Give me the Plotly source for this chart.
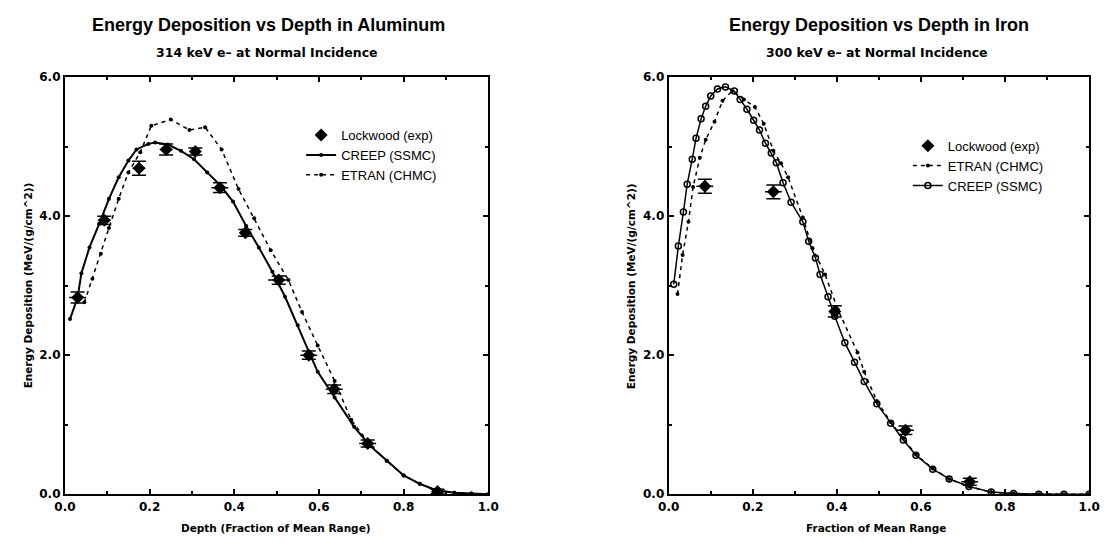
import plotly.graph_objects as go

# ---------------- Aluminum (left) ----------------
al_exp_x = [0.030, 0.093, 0.175, 0.239, 0.308, 0.366, 0.426, 0.505, 0.576, 0.636, 0.715, 0.880]
al_exp_y = [2.83, 3.94, 4.69, 4.96, 4.93, 4.41, 3.76, 3.08, 2.00, 1.51, 0.73, 0.04]
al_exp_ex = [0.02, 0.015, 0.015, 0.015, 0.01, 0.02, 0.01, 0.025, 0.02, 0.02, 0.02, 0.01]
al_exp_ey = [0.08, 0.06, 0.1, 0.08, 0.05, 0.07, 0.05, 0.06, 0.06, 0.06, 0.05, 0.03]

al_creep_x = [0.012, 0.030, 0.039, 0.058, 0.081, 0.104, 0.127, 0.150, 0.169, 0.197, 0.213,
              0.243, 0.274, 0.305, 0.336, 0.366, 0.397, 0.428, 0.458, 0.490, 0.520, 0.550,
              0.576, 0.597, 0.637, 0.683, 0.722, 0.760, 0.800, 0.838, 0.875, 0.920, 0.960, 1.000]
al_creep_y = [2.52, 2.83, 3.18, 3.55, 3.89, 4.25, 4.56, 4.80, 4.96, 5.04, 5.06,
              5.03, 4.94, 4.82, 4.63, 4.45, 4.21, 3.86, 3.55, 3.20, 2.84, 2.43,
              2.05, 1.76, 1.39, 0.97, 0.69, 0.48, 0.27, 0.15, 0.06, 0.02, 0.01, 0.00]

al_etran_x = [0.046, 0.065, 0.085, 0.104, 0.127, 0.150, 0.178, 0.204, 0.250, 0.294, 0.331,
              0.370, 0.410, 0.447, 0.486, 0.528, 0.560, 0.597, 0.637, 0.676, 0.722, 0.760,
              0.800, 0.838, 0.875, 0.920, 0.960, 1.000]
al_etran_y = [2.76, 3.10, 3.46, 3.83, 4.25, 4.63, 4.92, 5.30, 5.39, 5.24, 5.28,
              4.96, 4.39, 3.97, 3.51, 3.08, 2.62, 2.14, 1.63, 1.07, 0.70, 0.48,
              0.27, 0.15, 0.06, 0.02, 0.01, 0.00]

# ---------------- Iron (right) ----------------
fe_exp_x = [0.086, 0.249, 0.395, 0.563, 0.716]
fe_exp_y = [4.43, 4.35, 2.63, 0.92, 0.18]
fe_exp_ex = [0.02, 0.02, 0.01, 0.02, 0.02]
fe_exp_ey = [0.1, 0.1, 0.08, 0.06, 0.05]

fe_creep_x = [0.012, 0.023, 0.035, 0.044, 0.056, 0.065, 0.077, 0.088, 0.100, 0.116, 0.135,
              0.156, 0.170, 0.186, 0.202, 0.216, 0.230, 0.244, 0.256, 0.272, 0.291, 0.319,
              0.333, 0.349, 0.360, 0.379, 0.395, 0.419, 0.442, 0.465, 0.495, 0.528, 0.558,
              0.588, 0.628, 0.667, 0.714, 0.767, 0.820, 0.880, 0.940, 1.000]
fe_creep_y = [3.02, 3.57, 4.06, 4.46, 4.82, 5.12, 5.40, 5.58, 5.73, 5.83, 5.86,
              5.80, 5.68, 5.54, 5.38, 5.24, 5.05, 4.91, 4.77, 4.48, 4.20, 3.92,
              3.64, 3.40, 3.16, 2.84, 2.56, 2.18, 1.90, 1.62, 1.30, 1.02, 0.78,
              0.56, 0.36, 0.22, 0.11, 0.03, 0.01, 0.00, 0.00, 0.00]

fe_etran_x = [0.021, 0.033, 0.047, 0.058, 0.074, 0.088, 0.109, 0.128, 0.151, 0.179, 0.205,
              0.226, 0.249, 0.267, 0.284, 0.319, 0.342, 0.372, 0.402, 0.449, 0.465, 0.495,
              0.528, 0.558, 0.588, 0.628, 0.667, 0.714, 0.767, 0.820, 0.880, 0.940, 1.000]
fe_etran_y = [2.88, 3.44, 3.92, 4.42, 4.84, 5.10, 5.36, 5.66, 5.80, 5.68, 5.57,
              5.33, 4.94, 4.76, 4.56, 3.98, 3.54, 3.16, 2.66, 2.04, 1.76, 1.34,
              1.04, 0.80, 0.57, 0.37, 0.22, 0.11, 0.03, 0.01, 0.00, 0.00, 0.00]

titles = ["Energy Deposition vs Depth in Aluminum", "Energy Deposition vs Depth in Iron"]
subtitles = ["314 keV e\u2013 at Normal Incidence", "300 keV e\u2013 at Normal Incidence"]
xtitles = ["Depth (Fraction of Mean Range)", "Fraction of Mean Range"]
ytitle = "Energy Deposition (MeV/(g/cm^2))"

BOLD = "DejaVu Sans"
LEG = "Liberation Sans"

fig = go.Figure()

def exp_trace(x, y, ex, ey, xa, ya, leg):
    return go.Scatter(x=x, y=y, mode="markers", name="Lockwood (exp)",
                      marker=dict(symbol="diamond", size=10, color="black"),
                      error_x=dict(type="data", array=ex, color="black", thickness=1.5, width=0),
                      error_y=dict(type="data", array=ey, color="black", thickness=1.5, width=7),
                      xaxis=xa, yaxis=ya, legend=leg)

# left
fig.add_trace(exp_trace(al_exp_x, al_exp_y, al_exp_ex, al_exp_ey, "x", "y", "legend"))
fig.add_trace(go.Scatter(x=al_creep_x, y=al_creep_y, mode="lines+markers", name="CREEP (SSMC)",
                         line=dict(color="black", width=2),
                         marker=dict(symbol="circle", size=4, color="black"),
                         xaxis="x", yaxis="y", legend="legend"))
fig.add_trace(go.Scatter(x=al_etran_x, y=al_etran_y, mode="lines+markers", name="ETRAN (CHMC)",
                         line=dict(color="black", width=1.5, dash="4px,4px"),
                         marker=dict(symbol="circle", size=4, color="black"),
                         xaxis="x", yaxis="y", legend="legend"))
# right
fig.add_trace(exp_trace(fe_exp_x, fe_exp_y, fe_exp_ex, fe_exp_ey, "x2", "y2", "legend2"))
fig.add_trace(go.Scatter(x=fe_etran_x, y=fe_etran_y, mode="lines+markers", name="ETRAN (CHMC)",
                         line=dict(color="black", width=1.5, dash="4px,4px"),
                         marker=dict(symbol="circle", size=4, color="black"),
                         xaxis="x2", yaxis="y2", legend="legend2"))
fig.add_trace(go.Scatter(x=fe_creep_x, y=fe_creep_y, mode="lines+markers", name="CREEP (SSMC)",
                         line=dict(color="black", width=1.5),
                         marker=dict(symbol="circle-open", size=6, color="black", line=dict(width=1.5)),
                         xaxis="x2", yaxis="y2", legend="legend2"))

ydom = [1 - 500 / 547, 1 - 72 / 547]
xdoms = [[55 / 1109, 487 / 1109], [671 / 1109, 1100 / 1109]]

axcommon = dict(showgrid=False, zeroline=False, showline=True, linecolor="black", linewidth=2,
                mirror="ticks", ticks="inside", ticklen=5, tickwidth=1.5, tickcolor="black",
                tickfont=dict(family=BOLD, size=12, color="black", weight="bold"))

layout = dict(
    width=1109, height=547, margin=dict(l=0, r=0, t=0, b=0),
    paper_bgcolor="white", plot_bgcolor="white",
    showlegend=True,
    legend=dict(x=296 / 1109, y=1 - 116 / 547, xanchor="left", yanchor="top",
                bgcolor="rgba(0,0,0,0)", font=dict(family=LEG, size=13, color="black"),
                tracegroupgap=0, itemwidth=30),
    legend2=dict(x=915 / 1109, y=1 - 127 / 547, xanchor="left", yanchor="top",
                 bgcolor="rgba(0,0,0,0)", font=dict(family=LEG, size=13, color="black"),
                 tracegroupgap=0, itemwidth=30),
)
for i, (xa, ya) in enumerate([("xaxis", "yaxis"), ("xaxis2", "yaxis2")]):
    sfx = "" if i == 0 else "2"
    layout[xa] = dict(axcommon, domain=xdoms[i], range=[0, 1], tickmode="array",
                      tickvals=[0, 0.2, 0.4, 0.6, 0.8, 1.0],
                      ticktext=["0.0", "0.2", "0.4", "0.6", "0.8", "1.0"],
                      minor=dict(dtick=0.1, ticks="inside", ticklen=3, tickcolor="black"),
                      anchor="y" + sfx)
    layout[ya] = dict(axcommon, domain=ydom, range=[0, 6], tickmode="array",
                      tickvals=[0, 2, 4, 6], ticktext=["0.0", "2.0", "4.0", "6.0"],
                      minor=dict(dtick=1, ticks="inside", ticklen=3, tickcolor="black"),
                      anchor="x" + sfx)
fig.update_layout(**layout)

centers = [263 / 1109, 886 / 1109]
xt_centers = [270 / 1109, 882 / 1109]
yt_x = [17 / 1109, 632 / 1109]
for i in range(2):
    fig.add_annotation(text=titles[i], xref="paper", yref="paper", x=centers[i], y=1 - 18 / 547,
                       showarrow=False, xanchor="center", yanchor="middle",
                       font=dict(family="Liberation Sans", size=18, color="black", weight="bold"))
    fig.add_annotation(text=subtitles[i], xref="paper", yref="paper", x=centers[i] - 0.002,
                       y=1 - 47 / 547, showarrow=False, xanchor="center", yanchor="middle",
                       font=dict(family=BOLD, size=12.5, color="black", weight="bold"))
    fig.add_annotation(text=xtitles[i], xref="paper", yref="paper", x=xt_centers[i],
                       y=1 - 535 / 547, showarrow=False, xanchor="center", yanchor="middle",
                       font=dict(family=BOLD, size=10.5, color="black", weight="bold"))
    fig.add_annotation(text=ytitle, xref="paper", yref="paper", x=yt_x[i], y=1 - 286 / 547,
                       showarrow=False, xanchor="center", yanchor="middle", textangle=-90,
                       font=dict(family=BOLD, size=10.5, color="black", weight="bold"))

fig.write_html("out.html")
